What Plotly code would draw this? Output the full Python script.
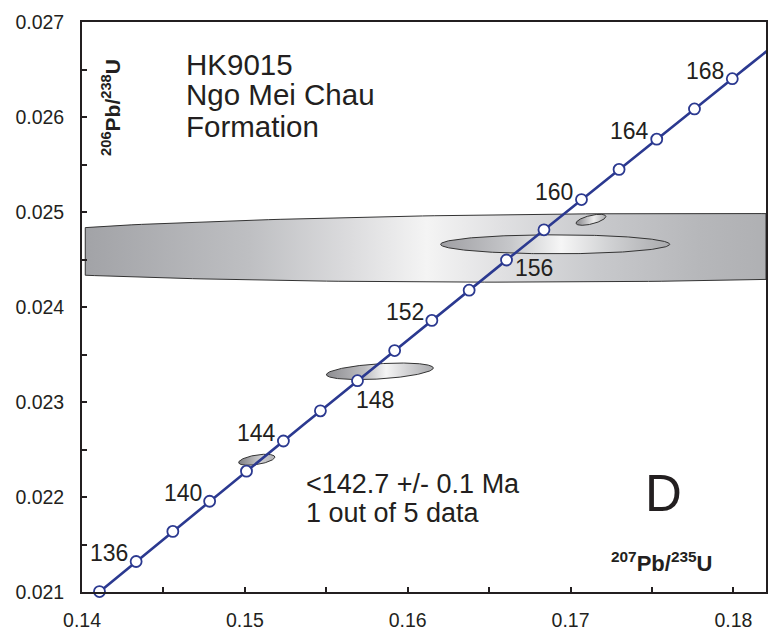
import numpy as np
import plotly.graph_objects as go

# Decay constants (per Ma) for the U-Pb concordia
LAMBDA_238 = 1.55125e-4
LAMBDA_235 = 9.8485e-4

# Ages (Ma) marked on the concordia curve, and the subset that is labelled
CONCORDIA_AGES = list(range(134, 170, 2))
LABELLED_AGES = [136, 140, 144, 148, 152, 156, 160, 164, 168]

# Error ellipses: centre (207Pb/235U, 206Pb/238U), half-widths and correlation slope
ELL_X = [0.171682, 0.169052, 0.17125, 0.15829, 0.15073]
ELL_Y = [0.0246232, 0.024660, 0.024918, 0.023323, 0.022392]
ELL_AX = [0.044526, 0.007034, 0.000917, 0.003284, 0.001113]
ELL_BY = [0.000358, 0.000100, 0.0000463, 0.0000800, 0.0000505]
ELL_SLOPE = [0.00113, 0.0, 0.0379, 0.01058, 0.0255]

TITLE_LINES = ["HK9015", "Ngo Mei Chau", "Formation"]
AGE_TEXT = ["<142.7 +/- 0.1 Ma", "1 out of 5 data"]
PANEL = "D"

X_RANGE = [0.14, 0.182]
Y_RANGE = [0.021, 0.027]

FONT = "Liberation Sans, Arial, sans-serif"
INK = "#231f20"
BLUE = "#2b3990"

W, H = 769, 634
M_L, M_R, M_T, M_B = 82, 1, 22, 42


def px(xp, yp):
    """pixel position in the page -> paper coordinates"""
    return ((xp - M_L) / (W - M_L - M_R), (H - M_B - yp) / (H - M_T - M_B))


def concordia(t):
    t = np.asarray(t, dtype=float)
    return np.expm1(LAMBDA_235 * t), np.expm1(LAMBDA_238 * t)


def ellipse(cx, cy, ax, by, slope, n=361):
    a = np.linspace(0, 2 * np.pi, n)
    dx = ax * np.cos(a)
    return cx + dx, cy + by * np.sin(a) + slope * dx


# per-ellipse horizontal shading (grey edges, light highlight)
SHADES = [
    [[0, "#a2a3a7"], [0.24, "#bebfc2"], [0.39, "#dcdcde"], [0.5, "#f4f4f4"],
     [0.61, "#e0e0e2"], [0.75, "#c8c9cc"], [0.9, "#b6b7ba"], [1, "#afb0b3"]],
    [[0, "#a0a0a4"], [0.3, "#c6c7ca"], [0.52, "#f6f6f6"], [0.72, "#d2d3d5"], [1, "#a8a9ac"]],
    [[0, "#8e8e92"], [0.55, "#ececec"], [1, "#a4a5a8"]],
    [[0, "#8e8e92"], [0.35, "#bebec1"], [0.55, "#f5f5f5"], [0.75, "#d2d2d4"], [1, "#a8a9ac"]],
    [[0, "#7f7f83"], [0.6, "#cfcfd1"], [1, "#b2b2b5"]],
]

fig = go.Figure()

for i in range(len(ELL_X)):
    ex, ey = ellipse(ELL_X[i], ELL_Y[i], ELL_AX[i], ELL_BY[i], ELL_SLOPE[i])
    if i == 0:
        ex = np.clip(ex, 0.1402, X_RANGE[1])
    fig.add_trace(go.Scatter(
        x=ex, y=ey, mode="lines", fill="toself",
        line=dict(color="#333333", width=1),
        fillgradient=dict(type="horizontal", colorscale=SHADES[i],
                          start=float(ex.min()), stop=float(ex.max())),
        hoverinfo="skip", showlegend=False,
    ))

# concordia curve
tline = np.linspace(130, 172, 400)
cx_line, cy_line = concordia(tline)
fig.add_trace(go.Scatter(x=cx_line, y=cy_line, mode="lines",
                         line=dict(color=BLUE, width=2.6),
                         hoverinfo="skip", showlegend=False))

mx, my = concordia(CONCORDIA_AGES)
fig.add_trace(go.Scatter(x=mx, y=my, mode="markers", cliponaxis=False,
                         marker=dict(size=11, color="white",
                                     line=dict(color=BLUE, width=1.8)),
                         hoverinfo="skip", showlegend=False))

# age labels beside the marks
LABEL_SHIFT = {148: (18, -19), 156: (27, -8)}
lx, ly = concordia(LABELLED_AGES)
for age, x, y in zip(LABELLED_AGES, lx, ly):
    dx, dy = LABEL_SHIFT.get(age, (-27, 8))
    fig.add_annotation(x=x, y=y, text=str(age), showarrow=False,
                       xshift=dx, yshift=dy,
                       font=dict(family=FONT, size=23, color=INK))

# sample description
for text, yp in zip(TITLE_LINES, [64, 95, 126]):
    xp_, yp_ = px(184, yp)
    fig.add_annotation(x=xp_, y=yp_, xref="paper", yref="paper", text=text,
                       showarrow=False, xanchor="left", yanchor="middle",
                       font=dict(family=FONT, size=29.5, color=INK))

for text, yp in zip(AGE_TEXT, [484, 513]):
    xp_, yp_ = px(305, yp)
    fig.add_annotation(x=xp_, y=yp_, xref="paper", yref="paper", text=text,
                       showarrow=False, xanchor="left", yanchor="middle",
                       font=dict(family=FONT, size=27, color=INK))

xp_, yp_ = px(665, 493)
fig.add_annotation(x=xp_, y=yp_, xref="paper", yref="paper", text=PANEL,
                   showarrow=False, xanchor="center", yanchor="middle",
                   font=dict(family=FONT, size=51, color=INK))

# axis titles placed inside the frame
xp_, yp_ = px(664, 562)
fig.add_annotation(x=xp_, y=yp_, xref="paper", yref="paper",
                   text="<b><sup>207</sup>Pb/<sup>235</sup>U</b>",
                   showarrow=False, xanchor="center", yanchor="middle",
                   font=dict(family=FONT, size=22, color=INK))
xp_, yp_ = px(111, 107)
fig.add_annotation(x=xp_, y=yp_, xref="paper", yref="paper",
                   text="<b><sup>206</sup>Pb/<sup>238</sup>U</b>", textangle=-90,
                   showarrow=False, xanchor="center", yanchor="middle",
                   font=dict(family=FONT, size=21, color=INK))

axis_common = dict(
    showgrid=False, zeroline=False, showline=True, linecolor=INK, linewidth=1.8,
    mirror=True, ticks="inside", ticklen=5, tickwidth=1.5, tickcolor=INK,
    tickfont=dict(family=FONT, size=19.5, color=INK),
)
fig.update_xaxes(range=X_RANGE, dtick=0.01, tick0=0.14, tickformat=".2f",
                 minor=dict(dtick=0.005, ticks="inside", ticklen=5, tickwidth=1.5,
                            tickcolor=INK, showgrid=False),
                 ticklabelstandoff=10, **axis_common)
fig.update_yaxes(range=Y_RANGE, dtick=0.001, tick0=0.021, tickformat=".3f",
                 minor=dict(dtick=0.0005, ticks="inside", ticklen=5, tickwidth=1.5,
                            tickcolor=INK, showgrid=False),
                 ticklabelstandoff=12, **axis_common)

fig.update_layout(
    width=W, height=H,
    margin=dict(l=M_L, r=M_R, t=M_T, b=M_B),
    plot_bgcolor="white", paper_bgcolor="white",
    showlegend=False,
)

fig.write_html("out.html")
